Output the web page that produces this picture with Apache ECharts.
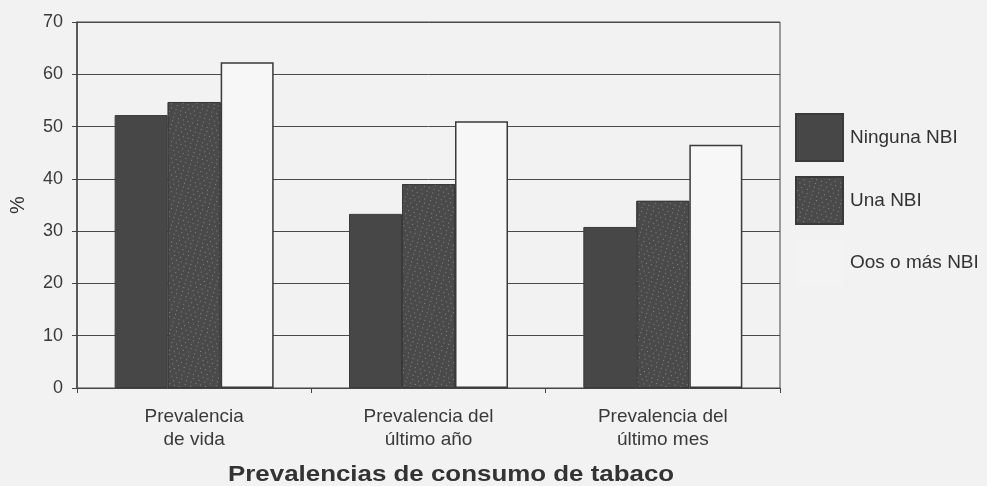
<!DOCTYPE html>
<html><head><meta charset="utf-8">
<script src="https://cdn.jsdelivr.net/npm/echarts@6/dist/echarts.min.js"></script>
<style>html,body{margin:0;padding:0;background:#f2f2f2}#c{width:987px;height:486px}</style>
</head><body><div id="c"></div>
<script>
var categories = ['Prevalencia\nde vida', 'Prevalencia del\núltimo año', 'Prevalencia del\núltimo mes'];
var seriesNames = ['Ninguna NBI', 'Una NBI', 'Oos o más NBI'];
var ningunaNBI = [52.2, 33.3, 30.8];
var unaNBI = [54.7, 39.0, 35.8];
var dosOMasNBI = [62.3, 51.0, 46.5];
var yTicks = [0, 10, 20, 30, 40, 50, 60, 70];
var xAxisTitle = 'Prevalencias de consumo de tabaco';

var chart = echarts.init(document.getElementById('c'), null, {renderer: 'canvas'});
var font = 'Liberation Sans, Arial, sans-serif';
chart.setOption({
  backgroundColor: '#f2f2f2',
  aria: {enabled: false},
  grid: {left: 76, right: 207, top: 22, bottom: 98, show: true, borderColor: '#444', borderWidth: 1, backgroundColor: 'transparent'},
  legend: {
    orient: 'vertical', left: 795, top: 113, padding: 0, itemWidth: 47, itemHeight: 47, itemGap: 14,
    icon: 'rect',
    textStyle: {fontFamily: font, fontSize: 19, color: '#333', padding: [0,0,0,2]},
    data: [
      {name: seriesNames[0]},
      {name: seriesNames[1]},
      {name: seriesNames[2], itemStyle: {color: '#f3f3f3', borderWidth: 0}}
    ]
  },
  xAxis: {
    type: 'category', data: categories,
    axisLine: {lineStyle: {color: '#444', width: 1}},
    axisTick: {show: true, length: 5, lineStyle: {color: '#444'}},
    axisLabel: {fontFamily: font, fontSize: 19, color: '#3a3a3a', lineHeight: 23.5, margin: 17}
  },
  yAxis: {
    type: 'value', min: 0, max: 70, interval: 10,
    name: '%', nameLocation: 'middle', nameGap: 49, nameRotate: 90,
    nameTextStyle: {fontFamily: font, fontSize: 20, color: '#333'},
    axisLine: {show: true, lineStyle: {color: '#444', width: 1.5}},
    axisTick: {show: true, length: 5, lineStyle: {color: '#444'}},
    axisLabel: {fontFamily: font, fontSize: 18, color: '#3a3a3a', margin: 14,
      formatter: function (v) { return yTicks.indexOf(v) >= 0 ? String(v) : ''; }},
    splitLine: {show: true, lineStyle: {color: '#4a4a4a', width: 1}}
  },
  series: [
    {name: seriesNames[0], type: 'bar', data: ningunaNBI, barWidth: 53, barGap: '0%',
      itemStyle: {color: '#474747', borderColor: '#3a3a3a', borderWidth: 1}},
    {name: seriesNames[1], type: 'bar', data: unaNBI, barWidth: 53, barGap: '0%',
      itemStyle: {color: '#4a4a4a', borderColor: '#3a3a3a', borderWidth: 1,
        decal: {symbol: 'rect', symbolSize: 1, color: 'rgba(255,255,255,0.35)',
          dashArrayX: [[1, 4], [0, 2, 1, 3]], dashArrayY: [1, 3], rotation: 0.3}}},
    {name: seriesNames[2], type: 'bar', data: dosOMasNBI, barWidth: 53, barGap: '0%',
      itemStyle: {color: '#f7f7f7', borderColor: '#3a3a3a', borderWidth: 1.5}}
  ],
  graphic: [{
    type: 'text', x: 228, y: 475, scaleX: 1.177,
    style: {text: xAxisTitle, font: 'bold 22px Liberation Sans, Arial, sans-serif', fill: '#333',
      align: 'left', verticalAlign: 'middle'}
  }]
});
</script></body></html>
